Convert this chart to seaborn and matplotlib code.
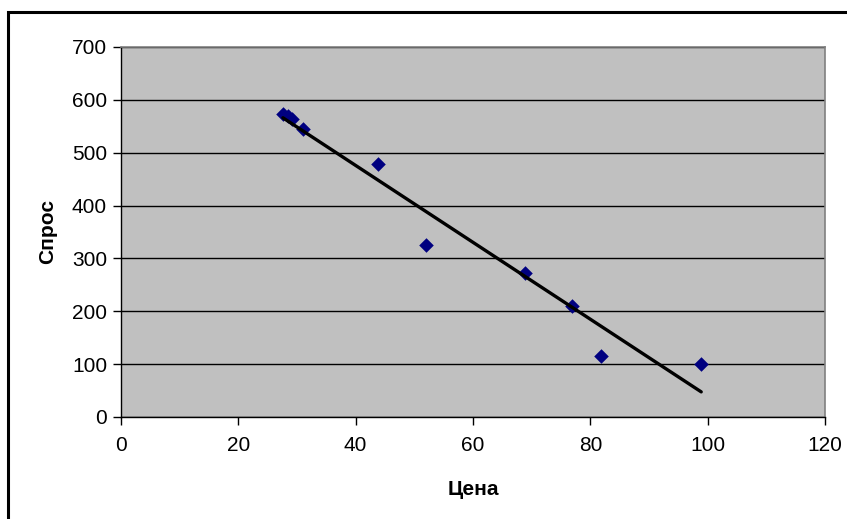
import numpy as np
import pandas as pd
import matplotlib
matplotlib.use("Agg")
import matplotlib.pyplot as plt
import seaborn as sns
from matplotlib.patches import Rectangle

price = [27.6, 28.5, 29.2, 31.0, 43.8, 52.0, 68.9, 76.9, 81.8, 98.9]
demand = [573, 570, 564, 544, 478, 325, 272, 210, 115, 100]
x_ticks = [0, 20, 40, 60, 80, 100, 120]
y_ticks = [0, 100, 200, 300, 400, 500, 600, 700]
x_label = "Цена"
y_label = "Спрос"

df = pd.DataFrame({"Цена": price, "Спрос": demand})

sns.set_theme(style="white")
plt.rcParams['font.family'] = ['Liberation Sans', 'DejaVu Sans']

fig = plt.figure(figsize=(8.47, 5.19), dpi=100)
ax = fig.add_axes([121/847, 1-417/519, (825-121)/847, (417-47)/519])
ax.set_facecolor("#C0C0C0")

sns.regplot(data=df, x="Цена", y="Спрос", ax=ax, ci=None, truncate=True, marker="D",
            scatter_kws=dict(s=55, color="#000080", alpha=1, linewidths=0, zorder=3),
            line_kws=dict(color="black", linewidth=2.4, zorder=4))

ax.set_xlim(0, 120)
ax.set_ylim(0, 700)
ax.set_xticks(x_ticks)
ax.set_yticks(y_ticks)
ax.yaxis.grid(True, color="#000000", linewidth=1.0)
ax.set_axisbelow(True)
for s in ["top", "right"]:
    ax.spines[s].set_color("#808080")
    ax.spines[s].set_linewidth(1.2)
for s in ["left", "bottom"]:
    ax.spines[s].set_color("#000000")
    ax.spines[s].set_linewidth(1.0)
ax.tick_params(axis="both", which="both", direction="out", length=6, width=1, color="black",
               labelsize=15, labelcolor="black", bottom=True, left=True)
ax.tick_params(axis="x", pad=8)
ax.tick_params(axis="y", pad=4)
ax.set_xlabel(x_label, fontsize=15, fontweight="bold", labelpad=18, color="black")
ax.set_ylabel(y_label, fontsize=15, fontweight="bold", labelpad=11, color="black")

fig.patches.append(Rectangle((8/847, -0.05), 1.0, 1-12/519+0.05, transform=fig.transFigure,
                             fill=False, edgecolor="black", linewidth=2.2))

fig.savefig("out.png", dpi=100)
